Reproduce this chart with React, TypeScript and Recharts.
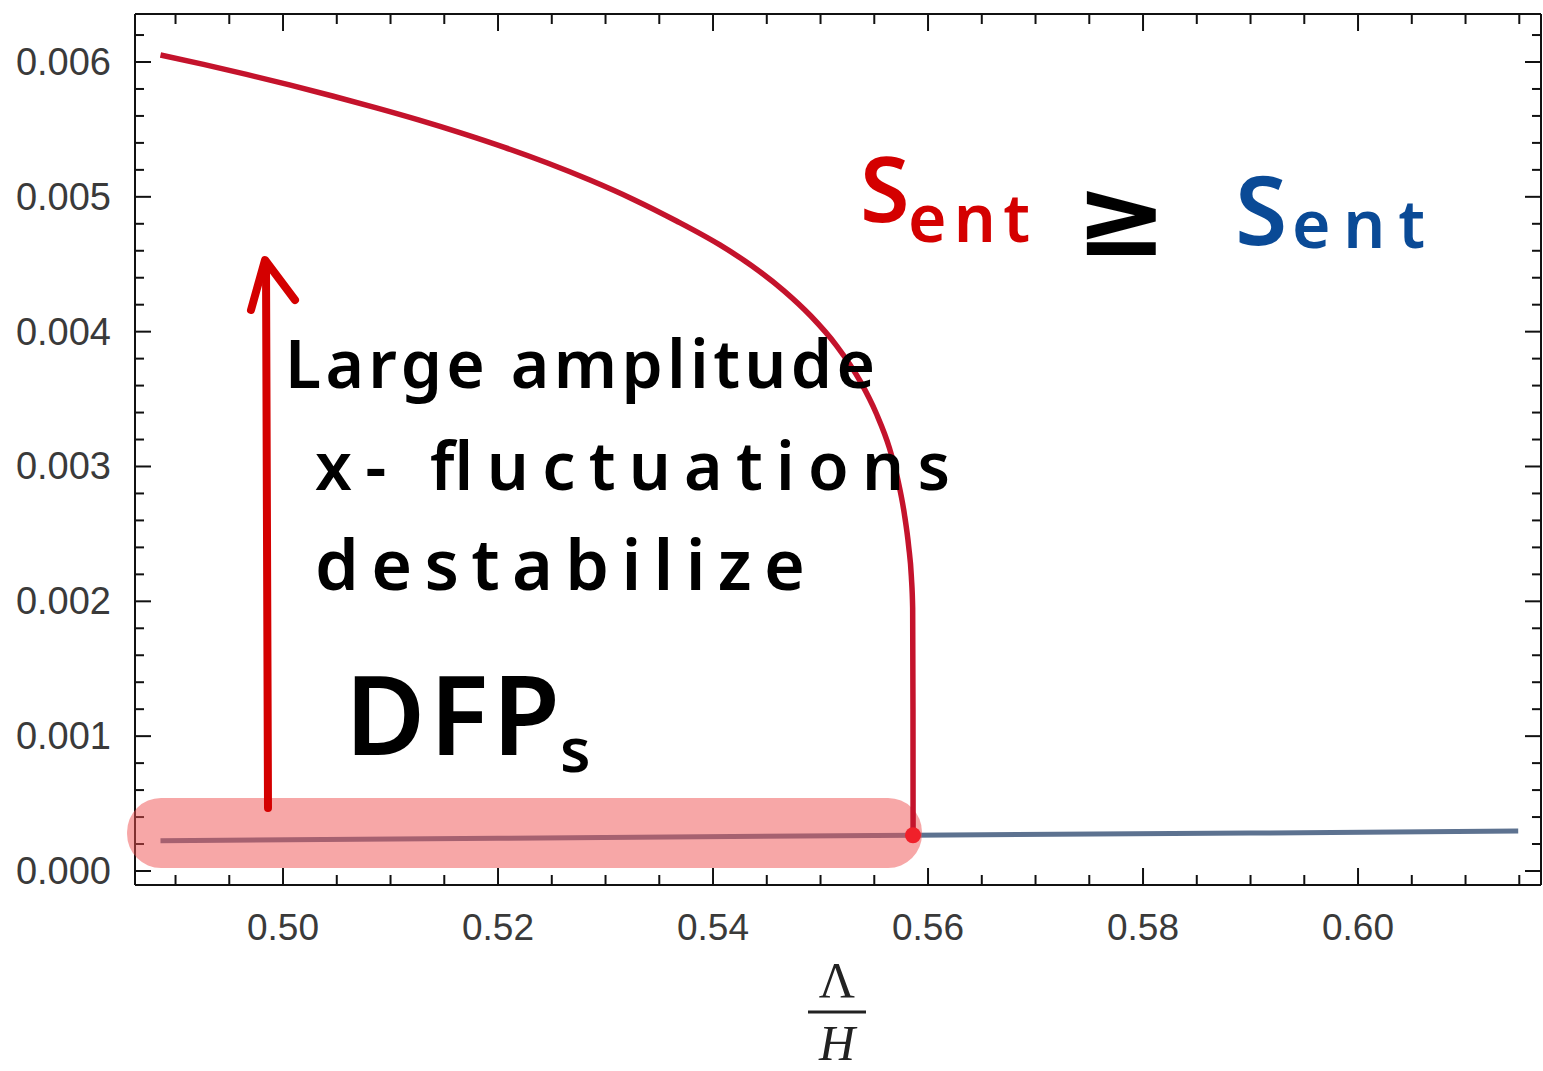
import React from "react";
import { ComposedChart, Line, XAxis, YAxis, ReferenceArea, ReferenceDot } from "recharts";

// red branch (upper solution)
const redLambda = [
  0.4886, 0.4926, 0.4966, 0.5006, 0.5046, 0.5086, 0.5126, 0.5166, 0.5206, 0.5246,
  0.5286, 0.5326, 0.5366, 0.5406, 0.5436, 0.5466, 0.5491, 0.5515, 0.5537, 0.5552,
  0.5564, 0.5572, 0.5578, 0.5582, 0.55845, 0.55857, 0.5586, 0.55861,
];
const redValue = [
  0.006052, 0.005982, 0.005908, 0.00583, 0.005748, 0.005662, 0.005571, 0.005473, 0.005367, 0.005251,
  0.005123, 0.004981, 0.004821, 0.004645, 0.004489, 0.004303, 0.004116, 0.003895, 0.003631, 0.003391,
  0.003139, 0.002899, 0.002647, 0.002407, 0.002182, 0.00195, 0.0012, 0.000265,
];

// blue branch (DFP)
const blueLambda = [0.4886, 0.52, 0.5586, 0.59, 0.6149];
const blueValue = [0.000225, 0.000243, 0.000265, 0.000281, 0.000297];

const xMajor = [0.5, 0.52, 0.54, 0.56, 0.58, 0.6];
const xMinor = [
  0.49, 0.495, 0.5, 0.505, 0.51, 0.515, 0.52, 0.525, 0.53, 0.535, 0.54, 0.545, 0.55, 0.555,
  0.56, 0.565, 0.57, 0.575, 0.58, 0.585, 0.59, 0.595, 0.6, 0.605, 0.61, 0.615,
];
const yMajor = [0, 0.001, 0.002, 0.003, 0.004, 0.005, 0.006];
const yMinor = [
  0, 0.0002, 0.0004, 0.0006, 0.0008, 0.001, 0.0012, 0.0014, 0.0016, 0.0018, 0.002, 0.0022,
  0.0024, 0.0026, 0.0028, 0.003, 0.0032, 0.0034, 0.0036, 0.0038, 0.004, 0.0042, 0.0044,
  0.0046, 0.0048, 0.005, 0.0052, 0.0054, 0.0056, 0.0058, 0.006, 0.0062,
];

const xDomain = [0.48623, 0.61702];
const yDomain = [-0.000104, 0.006356];

const redData = redLambda.map((x, i) => ({ x, v: redValue[i] }));
const blueData = blueLambda.map((x, i) => ({ x, v: blueValue[i] }));

const isMajor = (v: number, majors: number[]) => majors.some((m) => Math.abs(m - v) < 1e-9);
const labelFont = "'Liberation Sans', Arial, sans-serif";
const hand = "'Noto Sans', 'DejaVu Sans', sans-serif";

const BottomTick = (p: any) => {
  const major = isMajor(p.payload.value, xMajor);
  return (
    <g>
      <line x1={p.x} y1={p.y} x2={p.x} y2={p.y - (major ? 17 : 10)} stroke="#111" strokeWidth={2} />
      {major && (
        <text x={p.x} y={p.y + 42} textAnchor="middle" dominantBaseline="central" fontSize={37} fill="#3a3a3a" fontFamily={labelFont}>
          {p.payload.value.toFixed(2)}
        </text>
      )}
    </g>
  );
};

const TopTick = (p: any) => {
  const major = isMajor(p.payload.value, xMajor);
  return <line x1={p.x} y1={p.y} x2={p.x} y2={p.y + (major ? 17 : 10)} stroke="#111" strokeWidth={2} />;
};

const LeftTick = (p: any) => {
  const major = isMajor(p.payload.value, yMajor);
  return (
    <g>
      <line x1={p.x} y1={p.y} x2={p.x + (major ? 16 : 9)} y2={p.y} stroke="#111" strokeWidth={2} />
      {major && (
        <text x={p.x - 24} y={p.y} textAnchor="end" dominantBaseline="central" fontSize={38} fill="#3a3a3a" fontFamily={labelFont}>
          {p.payload.value.toFixed(3)}
        </text>
      )}
    </g>
  );
};

const RightTick = (p: any) => {
  const major = isMajor(p.payload.value, yMajor);
  return <line x1={p.x} y1={p.y} x2={p.x - (major ? 16 : 9)} y2={p.y} stroke="#111" strokeWidth={2} />;
};

const Highlight = (p: any) => (
  <rect x={p.x} y={p.y} width={p.width} height={p.height} rx={34} ry={34} fill="#ef4f4f" fillOpacity={0.5} />
);

const axisLine = { stroke: "#111", strokeWidth: 2 };
const layer: React.CSSProperties = { position: "absolute", left: 0, top: 0 };

export default function App() {
  return (
    <div style={{ position: "absolute", left: 0, top: 0, width: 1543, height: 1071, background: "#fff" }}>
      {/* frame, ticks and the blue branch */}
      <div style={layer}>
        <ComposedChart width={1543} height={1071} margin={{ top: 0, right: 0, left: 0, bottom: 0 }}>
          <XAxis xAxisId="b" dataKey="x" type="number" domain={xDomain} allowDataOverflow
            orientation="bottom" height={186} ticks={xMinor} interval={0} tickSize={0} tickMargin={0}
            tickLine={false} axisLine={axisLine} tick={<BottomTick />} />
          <XAxis xAxisId="t" dataKey="x" type="number" domain={xDomain} allowDataOverflow
            orientation="top" height={14} ticks={xMinor} interval={0} tickSize={0} tickMargin={0}
            tickLine={false} axisLine={axisLine} tick={<TopTick />} />
          <YAxis yAxisId="l" type="number" domain={yDomain} allowDataOverflow
            orientation="left" width={135} ticks={yMinor} interval={0} tickSize={0} tickMargin={0}
            tickLine={false} axisLine={axisLine} tick={<LeftTick />} />
          <YAxis yAxisId="r" type="number" domain={yDomain} allowDataOverflow
            orientation="right" width={2} ticks={yMinor} interval={0} tickSize={0} tickMargin={0}
            tickLine={false} axisLine={axisLine} tick={<RightTick />} />
          <Line xAxisId="t" yAxisId="r" data={blueData} dataKey="v" stroke="none" dot={false}
            activeDot={false} isAnimationActive={false} />
          <Line xAxisId="b" yAxisId="l" data={blueData} dataKey="v" type="linear" stroke="#5d7290"
            strokeWidth={5} dot={false} activeDot={false} isAnimationActive={false} />
        </ComposedChart>
      </div>

      {/* highlight band, red branch and the junction point, drawn above */}
      <div style={layer}>
        <ComposedChart width={1543} height={1071} margin={{ top: 14, right: 2, left: 135, bottom: 186 }}>
          <XAxis dataKey="x" type="number" domain={xDomain} allowDataOverflow hide />
          <YAxis type="number" domain={yDomain} allowDataOverflow hide />
          <ReferenceArea x1={0.48549} x2={0.55944} y1={0.0000222} y2={0.000541}
            ifOverflow="visible" shape={<Highlight />} />
          <Line data={redData} dataKey="v" type="monotone" stroke="#c4132c"
            strokeWidth={5.5} dot={false} activeDot={false} isAnimationActive={false} />
          <ReferenceDot x={0.5586} y={0.000265} r={8} fill="#f0202a" stroke="none" />
        </ComposedChart>
      </div>

      <svg width={1543} height={1071} style={{ ...layer, pointerEvents: "none" }}>
        {/* arrow */}
        <line x1={268} y1={808} x2={266} y2={264} stroke="#d40000" strokeWidth={8} strokeLinecap="round" />
        <polyline points="251,310 265,260 295,300" fill="none" stroke="#d40000" strokeWidth={8}
          strokeLinecap="round" strokeLinejoin="round" />

        <text x={285} y={388} fontSize={66} fontFamily={hand} fontWeight={600} textLength={590} lengthAdjust="spacing">Large amplitude</text>
        <text x={315} y={490} fontSize={66} fontFamily={hand} fontWeight={600} textLength={635} lengthAdjust="spacing">x- fluctuations</text>
        <text x={315} y={590} fontSize={70} fontFamily={hand} fontWeight={600} textLength={490} lengthAdjust="spacing">destabilize</text>
        <text x={345} y={755} fontSize={110} fontFamily={hand} fontWeight={600} textLength={215} lengthAdjust="spacing">DFP</text>
        <text x={560} y={772} fontSize={62} fontFamily={hand} fontWeight={600}>s</text>

        <text x={860} y={222} fontSize={90} fontFamily={hand} fontWeight={600} fill="#d40000">S</text>
        <text x={908} y={242} fontSize={66} fontFamily={hand} fontWeight={600} fill="#d40000" textLength={122} lengthAdjust="spacing">ent</text>
        <text x={1075} y={255} fontSize={110} fontFamily="'DejaVu Sans', sans-serif" fontWeight={700}>≥</text>
        <text x={1235} y={245} fontSize={95} fontFamily={hand} fontWeight={600} fill="#0a4a96">S</text>
        <text x={1292} y={248} fontSize={66} fontFamily={hand} fontWeight={600} fill="#0a4a96" textLength={133} lengthAdjust="spacing">ent</text>

        {/* axis label Λ / H */}
        <text x={837} y={997} textAnchor="middle" fontSize={50} fontFamily="'Liberation Serif', serif" fill="#222">Λ</text>
        <line x1={808} y1={1012} x2={866} y2={1012} stroke="#222" strokeWidth={3} />
        <text x={837} y={1060} textAnchor="middle" fontSize={50} fontStyle="italic" fontFamily="'Liberation Serif', serif" fill="#222">H</text>
      </svg>
    </div>
  );
}
